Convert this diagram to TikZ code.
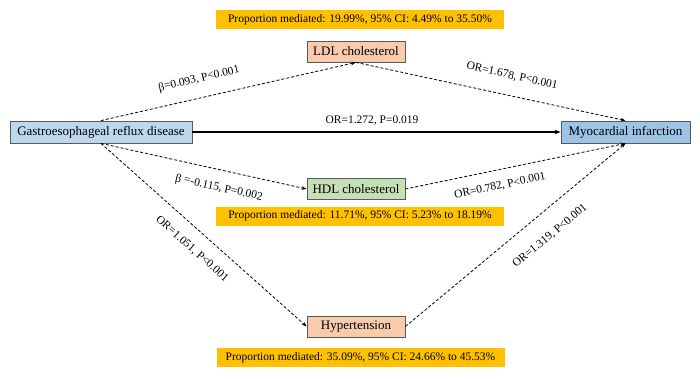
\documentclass[tikz,border=0pt]{standalone}
\usepackage{fontspec}
\setmainfont{Liberation Serif}
\usetikzlibrary{arrows.meta}
\begin{document}
\begin{tikzpicture}[x=1pt,y=-1pt,
  box/.style={draw=black!65, line width=0.8pt, inner sep=0pt, font=\fontsize{13}{15}\selectfont},
  medbox/.style={box, minimum width=98pt, minimum height=21pt},
  propbox/.style={fill=propcol, inner sep=0pt, minimum width=288pt, minimum height=19pt, font=\fontsize{11.5}{13}\selectfont},
  lab/.style={inner sep=0pt, font=\fontsize{11.5}{13}\selectfont},
  dasharrow/.style={draw, line width=0.8pt, dash pattern=on 3pt off 2pt, -{Stealth[length=5pt,width=3.6pt]}},
  solidarrow/.style={draw, line width=1.3pt, -{Stealth[length=6pt,width=4.5pt]}}
]
\definecolor{propcol}{HTML}{FFC000}
\definecolor{ldlcol}{HTML}{F8CBAD}
\definecolor{hdlcol}{HTML}{C5E0B4}
\definecolor{gerdcol}{HTML}{BDD7EE}
\definecolor{micol}{HTML}{9DC3E6}
\useasboundingbox (0,0) rectangle (700,378);
\fill[white] (0,0) rectangle (700,378);

\node[propbox] (p1) at (360,19.5) {Proportion mediated: 19.99\%, 95\% CI: 4.49\% to 35.50\%};
\node[propbox] (p2) at (360,216) {Proportion mediated: 11.71\%, 95\% CI: 5.23\% to 18.19\%};
\node[propbox] (p3) at (360.5,357.5) {Proportion mediated: 35.09\%, 95\% CI: 24.66\% to 45.53\%};

\node[medbox, fill=ldlcol] (ldl) at (356,51.5) {LDL cholesterol};
\node[medbox, fill=hdlcol] (hdl) at (356,189) {HDL cholesterol};
\node[medbox, fill=ldlcol] (hyp) at (356,326.5) {Hypertension};
\node[box, fill=gerdcol, minimum width=182pt, minimum height=22pt] (gerd) at (101,132) {Gastroesophageal reflux disease};
\node[box, fill=micol, minimum width=129pt, minimum height=22pt] (mi) at (625.5,132) {Myocardial infarction};

\path[dasharrow] (gerd.north) -- (ldl.south);
\path[dasharrow] (ldl.south) -- (mi.north);
\path[solidarrow] (gerd.east) -- (mi.west);
\path[dasharrow] (gerd.south) -- (hdl.west);
\path[dasharrow] (hdl.east) -- (mi.south);
\path[dasharrow] (gerd.south) -- (hyp.west);
\path[dasharrow] (hyp.east) -- (mi.south);

\node[lab, rotate=13] (l1) at (199,79) {β=0.093, P<0.001};
\node[lab, rotate=-12.4] (l2) at (512,76) {OR=1.678, P<0.001};
\node[lab] (l3) at (372,121) {OR=1.272, P=0.019};
\node[lab, rotate=-12.6] (l4) at (219,188) {β =-0.115, P=0.002};
\node[lab, rotate=11.8] (l5) at (500,186) {OR=0.782, P<0.001};
\node[lab, rotate=-41.6] (l6) at (192,249) {OR=1.051, P<0.001};
\node[lab, rotate=39.8] (l7) at (550,236) {OR=1.319, P<0.001};
\end{tikzpicture}
\end{document}
